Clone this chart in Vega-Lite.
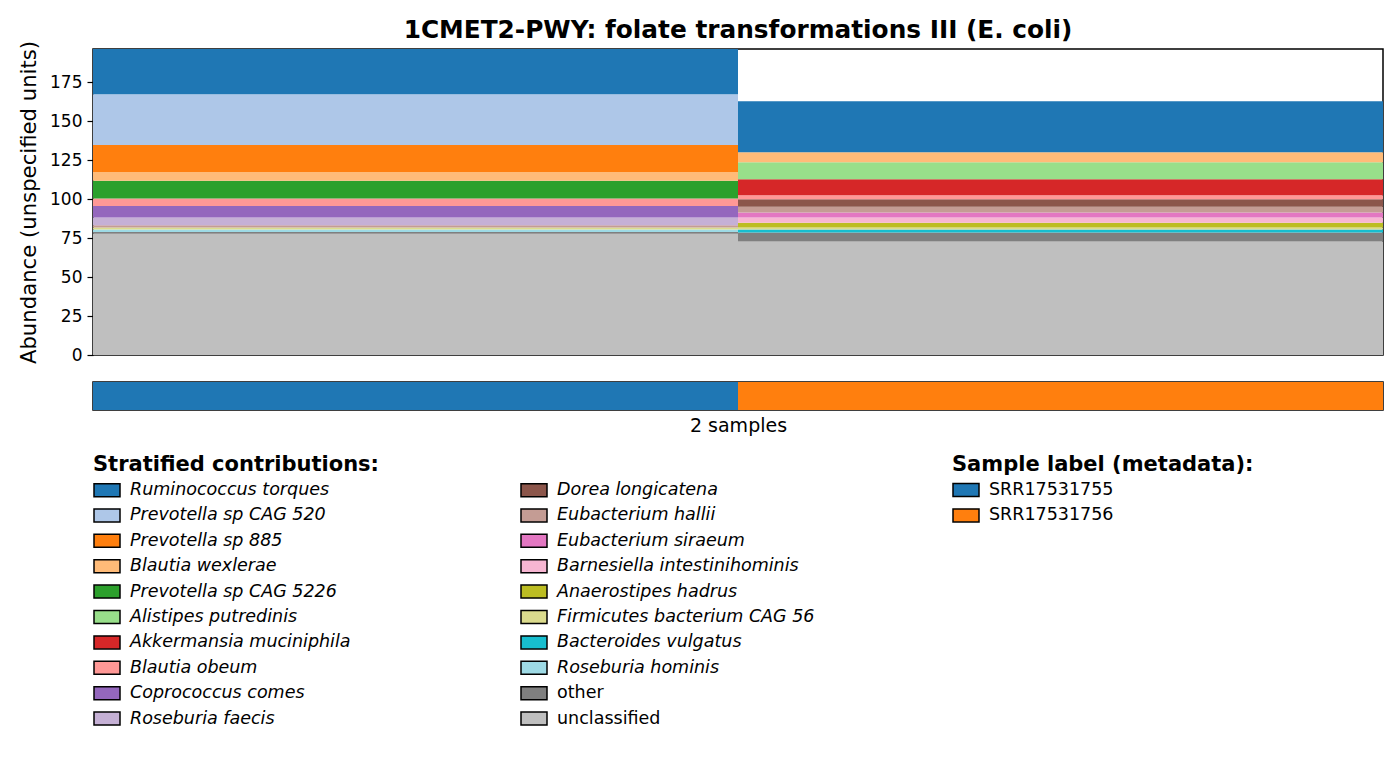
{
  "$schema": "https://vega.github.io/schema/vega-lite/v6.json",
  "padding": {"left": 17, "top": 17, "right": 5, "bottom": 5},
  "background": "white",
  "bounds": "flush",
  "config": {
    "font": "DejaVu Sans",
    "view": {"stroke": "black", "strokeWidth": 1.5}
  },
  "title": {"text": "1CMET2-PWY: folate transformations III (E. coli)", "fontSize": 24.8, "fontWeight": "bold", "color": "black", "offset": -3, "anchor": "middle", "frame": "group"},
  "spacing": 27,
  "resolve": {"scale": {"color": "independent", "x": "independent"}, "legend": {"color": "independent"}},
  "vconcat": [
    {
      "width": 1290,
      "height": 306,
      "data": {"values": [
        {"sample": "SRR17531755", "taxon": "unclassified", "idx": 20, "value": 77.9},
        {"sample": "SRR17531755", "taxon": "other", "idx": 19, "value": 1.0},
        {"sample": "SRR17531755", "taxon": "Roseburia hominis", "idx": 18, "value": 1.7},
        {"sample": "SRR17531755", "taxon": "Firmicutes bacterium CAG 56", "idx": 16, "value": 1.3},
        {"sample": "SRR17531755", "taxon": "Eubacterium hallii", "idx": 12, "value": 1.3},
        {"sample": "SRR17531755", "taxon": "Roseburia faecis", "idx": 10, "value": 5.0},
        {"sample": "SRR17531755", "taxon": "Coprococcus comes", "idx": 9, "value": 7.5},
        {"sample": "SRR17531755", "taxon": "Blautia obeum", "idx": 8, "value": 4.8},
        {"sample": "SRR17531755", "taxon": "Prevotella sp CAG 5226", "idx": 5, "value": 11.3},
        {"sample": "SRR17531755", "taxon": "Blautia wexlerae", "idx": 4, "value": 5.6},
        {"sample": "SRR17531755", "taxon": "Prevotella sp 885", "idx": 3, "value": 17.4},
        {"sample": "SRR17531755", "taxon": "Prevotella sp CAG 520", "idx": 2, "value": 32.6},
        {"sample": "SRR17531755", "taxon": "Ruminococcus torques", "idx": 1, "value": 29.0},
        {"sample": "SRR17531756", "taxon": "unclassified", "idx": 20, "value": 72.9},
        {"sample": "SRR17531756", "taxon": "other", "idx": 19, "value": 5.8},
        {"sample": "SRR17531756", "taxon": "Bacteroides vulgatus", "idx": 17, "value": 1.9},
        {"sample": "SRR17531756", "taxon": "Firmicutes bacterium CAG 56", "idx": 16, "value": 1.3},
        {"sample": "SRR17531756", "taxon": "Anaerostipes hadrus", "idx": 15, "value": 3.0},
        {"sample": "SRR17531756", "taxon": "Barnesiella intestinihominis", "idx": 14, "value": 3.4},
        {"sample": "SRR17531756", "taxon": "Eubacterium siraeum", "idx": 13, "value": 3.2},
        {"sample": "SRR17531756", "taxon": "Eubacterium hallii", "idx": 12, "value": 3.7},
        {"sample": "SRR17531756", "taxon": "Dorea longicatena", "idx": 11, "value": 4.7},
        {"sample": "SRR17531756", "taxon": "Blautia obeum", "idx": 8, "value": 2.6},
        {"sample": "SRR17531756", "taxon": "Akkermansia muciniphila", "idx": 7, "value": 10.3},
        {"sample": "SRR17531756", "taxon": "Alistipes putredinis", "idx": 6, "value": 10.9},
        {"sample": "SRR17531756", "taxon": "Blautia wexlerae", "idx": 4, "value": 6.4},
        {"sample": "SRR17531756", "taxon": "Ruminococcus torques", "idx": 1, "value": 32.8}
      ]},
      "mark": {"type": "bar"},
      "encoding": {
        "x": {"field": "sample", "type": "nominal", "scale": {"paddingInner": 0, "paddingOuter": 0}, "axis": null},
        "y": {"field": "value", "type": "quantitative", "stack": "zero",
              "scale": {"domain": [0, 196.4], "nice": false, "zero": true},
              "axis": {"values": [0, 25, 50, 75, 100, 125, 150, 175], "title": "Abundance (unspecified units)",
                       "titleFontSize": 21.2, "titleFontWeight": "normal", "titleColor": "black",
                       "labelFontSize": 17, "labelColor": "black", "tickColor": "black", "tickSize": 6, "tickWidth": 1.2,
                       "labelPadding": 5, "titlePadding": 10, "domain": false, "grid": false}},
        "color": {"field": "taxon", "type": "nominal",
          "scale": {
            "domain": ["Ruminococcus torques", "Prevotella sp CAG 520", "Prevotella sp 885", "Blautia wexlerae", "Prevotella sp CAG 5226", "Alistipes putredinis", "Akkermansia muciniphila", "Blautia obeum", "Coprococcus comes", "Roseburia faecis", "Dorea longicatena", "Eubacterium hallii", "Eubacterium siraeum", "Barnesiella intestinihominis", "Anaerostipes hadrus", "Firmicutes bacterium CAG 56", "Bacteroides vulgatus", "Roseburia hominis", "other", "unclassified"],
            "range": ["#1f77b4", "#aec7e8", "#ff7f0e", "#ffbb78", "#2ca02c", "#98df8a", "#d62728", "#ff9896", "#9467bd", "#c5b0d5", "#8c564b", "#c49c94", "#e377c2", "#f7b6d2", "#bcbd22", "#dbdb8d", "#17becf", "#9edae5", "#7f7f7f", "#bfbfbf"]
          },
          "legend": {"orient": "none", "legendX": 0, "legendY": 405, "title": "Stratified contributions:",
            "titleFontSize": 21, "titleFontWeight": "bold", "titleColor": "black", "titlePadding": 1, "titleLimit": 600,
            "labelFontSize": 17.5, "labelColor": "black", "labelOffset": 9, "labelLimit": 600,
            "columns": 2, "columnPadding": 167, "rowPadding": 1.4,
            "symbolType": "M-1,-0.5H1V0.5H-1Z", "symbolSize": 676, "symbolStrokeColor": "black", "symbolStrokeWidth": 1.5, "symbolOpacity": 1,
            "padding": 0,
            "encode": {"labels": {"update": {"fontStyle": {"signal": "datum.value === 'other' || datum.value === 'unclassified' ? 'normal' : 'italic'"}}}}}
        },
        "order": {"field": "idx", "sort": "descending"}
      }
    },
    {
      "width": 1290,
      "height": 28,
      "data": {"values": [{"sample": "SRR17531755"}, {"sample": "SRR17531756"}]},
      "mark": {"type": "bar"},
      "encoding": {
        "x": {"field": "sample", "type": "nominal", "scale": {"paddingInner": 0, "paddingOuter": 0},
              "axis": {"title": "2 samples", "labels": false, "ticks": false, "domain": false, "titleFontSize": 19, "titleFontWeight": "normal", "titleColor": "black", "titlePadding": 6}},
        "color": {"field": "sample", "type": "nominal",
          "scale": {"domain": ["SRR17531755", "SRR17531756"], "range": ["#1f77b4", "#ff7f0e"]},
          "legend": {"orient": "none", "legendX": 859, "legendY": 72, "title": "Sample label (metadata):",
            "titleFontSize": 21, "titleFontWeight": "bold", "titleColor": "black", "titlePadding": 1, "titleLimit": 600,
            "labelFontSize": 17.5, "labelColor": "black", "labelOffset": 9, "rowPadding": 1.4,
            "symbolType": "M-1,-0.5H1V0.5H-1Z", "symbolSize": 676, "symbolStrokeColor": "black", "symbolStrokeWidth": 1.5, "symbolOpacity": 1,
            "padding": 0}
        }
      }
    }
  ]
}
